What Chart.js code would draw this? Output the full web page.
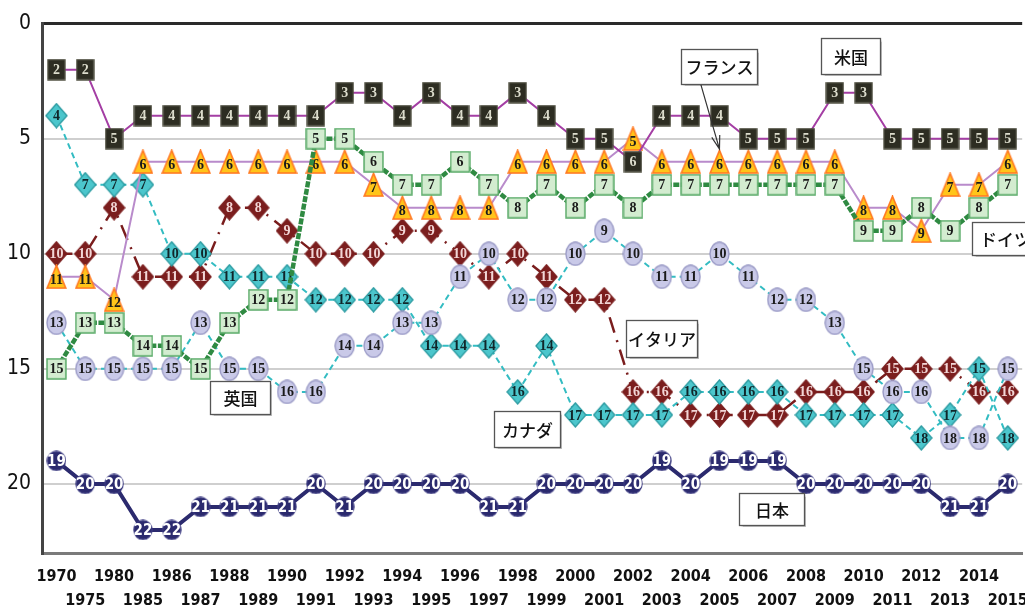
<!DOCTYPE html>
<html>
<head>
<meta charset="utf-8">
<script src="https://cdn.jsdelivr.net/npm/chart.js@4.4.0/dist/chart.umd.min.js"></script>
<style>
html, body { margin: 0; padding: 0; background: #fff; overflow: hidden; }
#wrap { width: 1040px; height: 610px; }
</style>
</head>
<body>
<div id="wrap"><canvas id="rankChart"></canvas></div>
<script>
// ranking by year (lower is better)
const years = ['1970', '1975', '1980', '1985', '1986', '1987', '1988', '1989', '1990', '1991',
    '1992', '1993', '1994', '1995', '1996', '1997', '1998', '1999', '2000', '2001', '2002',
    '2003', '2004', '2005', '2006', '2007', '2008', '2009', '2010', '2011', '2012', '2013',
    '2014', '2015'];
const usRank      = [2, 2, 5, 4, 4, 4, 4, 4, 4, 4, 3, 3, 4, 3, 4, 4, 3, 4, 5, 5, 6, 4, 4, 4, 5, 5, 5, 3, 3, 5, 5, 5, 5, 5];
const franceRank  = [11, 11, 12, 6, 6, 6, 6, 6, 6, 6, 6, 7, 8, 8, 8, 8, 6, 6, 6, 6, 5, 6, 6, 6, 6, 6, 6, 6, 8, 8, 9, 7, 7, 6];
const germanyRank = [15, 13, 13, 14, 14, 15, 13, 12, 12, 5, 5, 6, 7, 7, 6, 7, 8, 7, 8, 7, 8, 7, 7, 7, 7, 7, 7, 7, 9, 9, 8, 9, 8, 7];
const ukRank      = [13, 15, 15, 15, 15, 13, 15, 15, 16, 16, 14, 14, 13, 13, 11, 10, 12, 12, 10, 9, 10, 11, 11, 10, 11, 12, 12, 13, 15, 16, 16, 18, 18, 15];
const italyRank   = [10, 10, 8, 11, 11, 11, 8, 8, 9, 10, 10, 10, 9, 9, 10, 11, 10, 11, 12, 12, 16, 16, 17, 17, 17, 17, 16, 16, 16, 15, 15, 15, 16, 16];
const canadaRank  = [4, 7, 7, 7, 10, 10, 11, 11, 11, 12, 12, 12, 12, 14, 14, 14, 16, 14, 17, 17, 17, 17, 16, 16, 16, 16, 17, 17, 17, 17, 18, 17, 15, 18];
const japanRank   = [19, 20, 20, 22, 22, 21, 21, 21, 21, 20, 21, 20, 20, 20, 20, 21, 21, 20, 20, 20, 20, 19, 20, 19, 19, 19, 20, 20, 20, 20, 20, 21, 21, 20];
const yTicks = [0, 5, 10, 15, 20];

// callout boxes, placed in data units (category index, rank)
const callouts = [
    { text: 'フランス', x: 23.0, y: 1.85, w: 76, h: 35, arrow: { x0: 22.35, y0: 2.63, x1: 23.0, y1: 5.45 } },
    { text: '米国', x: 27.55, y: 1.42, w: 59, h: 36 },
    { text: 'ドイツ', x: 32.9, y: 9.35, w: 66, h: 33 },
    { text: 'イタリア', x: 21.0, y: 13.7, w: 71, h: 37 },
    { text: '英国', x: 6.38, y: 16.25, w: 60, h: 33 },
    { text: 'カナダ', x: 16.31, y: 17.63, w: 66, h: 36 },
    { text: '日本', x: 24.8, y: 21.1, w: 65, h: 32 }
];

const serifLabel = 'bold 14px "Liberation Serif", "DejaVu Serif", serif';

// small offscreen marker images (Chart.js draws them centred on each point)
function makeMarker(shape, w, h, fill, stroke, lw) {
    const c = document.createElement('canvas');
    c.width = w;
    c.height = h;
    const g = c.getContext('2d');
    const p = lw / 2 + 0.3;
    g.beginPath();
    if (shape === 'rect') {
        g.rect(p, p, w - 2 * p, h - 2 * p);
    } else if (shape === 'ellipse') {
        g.ellipse(w / 2, h / 2, w / 2 - p, h / 2 - p, 0, 0, Math.PI * 2);
    } else if (shape === 'diamond') {
        g.moveTo(w / 2, p);
        g.lineTo(w - p, h / 2);
        g.lineTo(w / 2, h - p);
        g.lineTo(p, h / 2);
        g.closePath();
    } else if (shape === 'triangle') {
        g.moveTo(w / 2, p);
        g.lineTo(w - p, h - p);
        g.lineTo(p, h - p);
        g.closePath();
    }
    g.fillStyle = fill;
    g.fill();
    g.lineWidth = lw;
    g.strokeStyle = stroke;
    g.stroke();
    return c;
}

const pointLabels = {
    id: 'pointLabels',
    afterDatasetDraw(chart, args) {
        const ds = chart.data.datasets[args.index];
        const meta = args.meta;
        const ctx = chart.ctx;
        ctx.save();
        ctx.font = ds.labelFont || serifLabel;
        ctx.fillStyle = ds.labelColor || '#222';
        ctx.textAlign = 'center';
        ctx.textBaseline = 'middle';
        meta.data.forEach((pt, i) => {
            ctx.fillText(String(ds.data[i]), pt.x, pt.y + (ds.labelShift || 0) + 1);
        });
        ctx.restore();
    }
};

const calloutBoxes = {
    id: 'calloutBoxes',
    afterDraw(chart) {
        const ctx = chart.ctx;
        const xs = chart.scales.x, ys = chart.scales.y;
        ctx.save();
        callouts.forEach(c => {
            const cx = xs.getPixelForValue(c.x);
            const cy = ys.getPixelForValue(c.y);
            const left = Math.round(cx - c.w / 2) + 0.5;
            const top = Math.round(cy - c.h / 2) + 0.5;
            if (c.arrow) {
                const ax0 = xs.getPixelForValue(c.arrow.x0), ay0 = ys.getPixelForValue(c.arrow.y0);
                const ax1 = xs.getPixelForValue(c.arrow.x1), ay1 = ys.getPixelForValue(c.arrow.y1);
                const ang = Math.atan2(ay1 - ay0, ax1 - ax0);
                ctx.strokeStyle = '#333';
                ctx.lineWidth = 1.2;
                ctx.beginPath();
                ctx.moveTo(ax0, ay0);
                ctx.lineTo(ax1, ay1);
                ctx.moveTo(ax1 - 14 * Math.cos(ang - 0.3), ay1 - 14 * Math.sin(ang - 0.3));
                ctx.lineTo(ax1, ay1);
                ctx.lineTo(ax1 - 14 * Math.cos(ang + 0.3), ay1 - 14 * Math.sin(ang + 0.3));
                ctx.stroke();
            }
            ctx.fillStyle = '#ffffff';
            ctx.shadowColor = 'rgba(0,0,0,0.25)';
            ctx.shadowOffsetX = 1;
            ctx.shadowOffsetY = 1;
            ctx.shadowBlur = 1;
            ctx.fillRect(left, top, c.w, c.h);
            ctx.shadowColor = 'transparent';
            ctx.strokeStyle = '#555';
            ctx.lineWidth = 1.3;
            ctx.strokeRect(left, top, c.w, c.h);
            ctx.fillStyle = '#111';
            ctx.font = '500 17px "Noto Sans CJK JP", sans-serif';
            ctx.textAlign = 'center';
            ctx.textBaseline = 'middle';
            ctx.fillText(c.text, left + c.w / 2, top + c.h / 2 + 1);
        });
        ctx.restore();
    }
};

function series(label, data, style) {
    return Object.assign({
        label: label,
        data: data,
        fill: false,
        tension: 0,
        borderWidth: 2,
        pointRadius: 10
    }, style);
}

const datasets = [
    series('日本', japanRank, {
        borderColor: '#2b2a6e', borderWidth: 4,
        pointStyle: makeMarker('ellipse', 20, 21, '#2b2a6e', '#3c3b82', 1.2),
        labelFont: 'bold 15px "Liberation Sans Narrow", "DejaVu Sans Condensed", sans-serif',
        labelColor: '#ffffff'
    }),
    series('米国', usRank, {
        borderColor: '#a43ea4',
        pointStyle: makeMarker('rect', 19, 22, '#2d2d22', '#5a5a4c', 1.2),
        labelColor: '#dcdccc'
    }),
    series('ドイツ', germanyRank, {
        borderColor: '#2f8a42', borderWidth: 4.5, borderDash: [6, 1.5],
        pointStyle: makeMarker('rect', 21, 22, '#d3ecd0', '#5aab68', 1.5),
        labelColor: '#1a1a1a'
    }),
    series('フランス', franceRank, {
        borderColor: '#b98bcb',
        pointStyle: makeMarker('triangle', 21, 25, '#ffc51a', '#ff7a22', 1.6),
        labelColor: '#1a1a1a', labelShift: 3
    }),
    series('英国', ukRank, {
        borderColor: '#33bcc2', borderDash: [6, 4],
        pointStyle: makeMarker('ellipse', 21, 25, '#c9c9e8', '#9a9ac6', 1.4),
        labelColor: '#1a1a1a'
    }),
    series('カナダ', canadaRank, {
        borderColor: '#33bcc2', borderDash: [6, 4],
        pointStyle: makeMarker('diamond', 23, 26, '#4cc6cc', '#2a9aa0', 1.3),
        labelColor: '#10262a'
    }),
    series('イタリア', italyRank, {
        borderColor: '#7a1d1d', borderWidth: 2.5, borderDash: [16, 8, 2, 8],
        pointStyle: makeMarker('diamond', 23, 26, '#7b1e1e', '#7b1e1e', 1.2),
        labelColor: '#f2d6d6'
    })
];

new Chart(document.getElementById('rankChart'), {
    type: 'line',
    data: { labels: years, datasets: datasets },
    options: {
        responsive: true,
        maintainAspectRatio: false,
        animation: false,
        layout: { padding: { top: 19, right: 12, left: 0, bottom: 0 } },
        plugins: {
            legend: { display: false },
            tooltip: { enabled: false }
        },
        scales: {
            x: {
                offset: true,
                grid: { display: false, drawTicks: false },
                border: { display: true, color: '#7a7a7a', width: 3 },
                ticks: {
                    autoSkip: false,
                    maxRotation: 0,
                    padding: 12,
                    color: '#111',
                    font: { family: '"Liberation Sans Narrow", "DejaVu Sans Condensed", sans-serif', size: 16, weight: 'bold', lineHeight: 1.5 },
                    callback: (v, i) => i % 2 === 0 ? [years[i], ''] : ['', years[i]]
                },
                afterFit: s => { s.height = 57; }
            },
            y: {
                reverse: true,
                min: 0,
                max: 23,
                afterBuildTicks: s => { s.ticks = yTicks.map(v => ({ value: v })); },
                grid: {
                    drawTicks: false,
                    color: c => c.tick && c.tick.value === 0 ? '#2a2a2a' : '#cfcfcf',
                    lineWidth: c => c.tick && c.tick.value === 0 ? 3 : 2
                },
                border: { display: true, color: '#444', width: 3 },
                ticks: {
                    padding: 11,
                    color: '#111',
                    font: { family: '"Liberation Sans Narrow", "DejaVu Sans Condensed", sans-serif', size: 21 }
                },
                afterFit: s => { s.width = 42; }
            }
        }
    },
    plugins: [pointLabels, calloutBoxes]
});
</script>
</body>
</html>
